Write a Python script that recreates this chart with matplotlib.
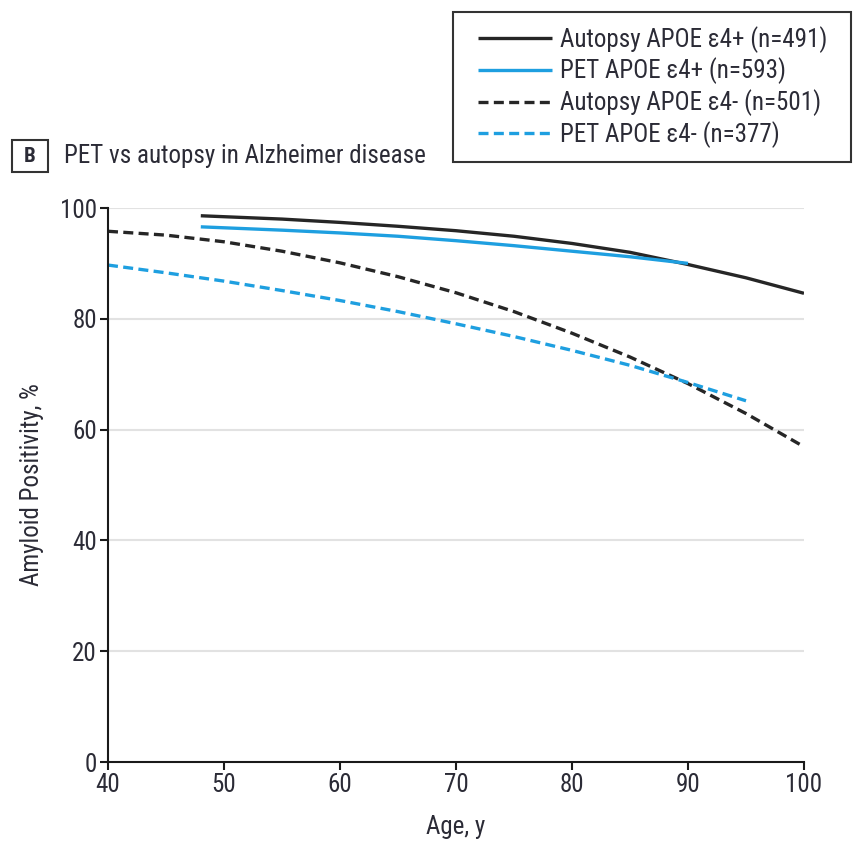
import matplotlib
matplotlib.use("Agg")
import matplotlib.pyplot as plt
from matplotlib import font_manager as fm
from matplotlib.patches import Rectangle

names = {f.name for f in fm.fontManager.ttflist}
fam = "Roboto Condensed" if "Roboto Condensed" in names else "Liberation Sans Narrow" if "Liberation Sans Narrow" in names else "DejaVu Sans"
plt.rcParams['font.family'] = [fam, 'DejaVu Sans']

# Data
age_aut_pos = [48, 55, 60, 65, 70, 75, 80, 85, 90, 95, 100]
aut_pos = [98.6, 98.0, 97.4, 96.7, 95.9, 94.9, 93.6, 92.0, 89.8, 87.4, 84.6]

age_pet_pos = [48, 55, 60, 65, 70, 75, 80, 85, 90]
pet_pos = [96.6, 96.0, 95.5, 94.9, 94.1, 93.2, 92.2, 91.2, 90.0]

age_aut_neg = [40, 45, 50, 55, 60, 65, 70, 75, 80, 85, 90, 95, 100]
aut_neg = [95.8, 95.1, 93.9, 92.2, 90.1, 87.6, 84.7, 81.3, 77.4, 73.1, 68.3, 62.9, 56.9]

age_pet_neg = [40, 45, 50, 55, 60, 65, 70, 75, 80, 85, 90, 95]
pet_neg = [89.7, 88.3, 86.8, 85.1, 83.3, 81.3, 79.1, 76.8, 74.3, 71.6, 68.5, 65.2]

labels = ["Autopsy APOE ε4+ (n=491)", "PET APOE ε4+ (n=593)",
          "Autopsy APOE ε4- (n=501)", "PET APOE ε4- (n=377)"]

xticks = [40, 50, 60, 70, 80, 90, 100]
yticks = [0, 20, 40, 60, 80, 100]

BLACK = '#262626'
BLUE = '#1e9fe0'
TXT = '#2b2b36'

fig = plt.figure(figsize=(8.54, 8.42), dpi=100)
ax = fig.add_axes([108/854, 1-762/842, (804-108)/854, (762-208)/842])

lw = 2.4
dash = (0, (3.0, 1.6))
h1, = ax.plot(age_aut_pos, aut_pos, color=BLACK, lw=lw, solid_capstyle='butt')
h2, = ax.plot(age_pet_pos, pet_pos, color=BLUE, lw=lw, solid_capstyle='butt')
h3, = ax.plot(age_aut_neg, aut_neg, color=BLACK, lw=lw, linestyle=dash)
h4, = ax.plot(age_pet_neg, pet_neg, color=BLUE, lw=lw, linestyle=dash)

ax.set_xlim(40, 100)
ax.set_ylim(0, 100)
ax.set_xticks(xticks)
ax.set_yticks(yticks)
for y in yticks[1:]:
    ax.axhline(y, color='#e2e2e2', lw=1.5, zorder=0)
for s in ['top', 'right']:
    ax.spines[s].set_visible(False)
for s in ['left', 'bottom']:
    ax.spines[s].set_linewidth(1.5)
    ax.spines[s].set_color('#1a1a1a')
ax.tick_params(direction='out', length=6, width=1.5, colors='#1a1a1a',
               labelsize=18, labelcolor=TXT, pad=2)
ax.set_xlabel("Age, y", fontsize=18, color=TXT, labelpad=13)
ax.set_ylabel("Amyloid Positivity, %", fontsize=18, color=TXT, labelpad=11)

# Panel title
fig.patches.append(Rectangle((12/854, 1-172/842), 36/854, 32/842, transform=fig.transFigure,
                             fill=False, edgecolor='#333333', lw=1.5))
fig.text(30/854, 1-156/842, "B", ha='center', va='center', fontsize=15,
         fontweight='bold', color=TXT)
fig.text(64/854, 1-156/842, "PET vs autopsy in Alzheimer disease", ha='left',
         va='center', fontsize=18, color=TXT)

# Legend box drawn separately
fig.patches.append(Rectangle((453/854, 1-162/842), (851-453)/854, (162-12)/842,
                             transform=fig.transFigure, fill=False,
                             edgecolor='#333333', lw=1.5))
leg = fig.legend([h1, h2, h3, h4], labels, loc='center left',
                 bbox_to_anchor=(478/854, 1-87/842), fontsize=18,
                 frameon=False, handlelength=2.96, handletextpad=0.33,
                 labelspacing=0.2, borderpad=0, borderaxespad=0, labelcolor=TXT)

fig.savefig("out.png", dpi=100)
